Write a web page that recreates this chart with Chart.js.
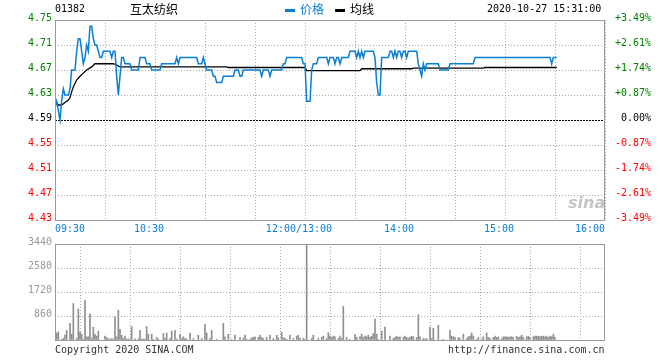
<!DOCTYPE html>
<html>
<head>
<meta charset="utf-8">
<script src="https://cdn.jsdelivr.net/npm/chart.js@4.4.1/dist/chart.umd.min.js"></script>
<style>
  body { margin: 0; background: #fff; }
  #wrap { position: relative; width: 660px; height: 360px; overflow: hidden; }
  canvas { position: absolute; left: 0; }
  .t { position: absolute; font: 10px "DejaVu Sans Mono", monospace; line-height: 12px; white-space: pre; color: #000; }
  .cjk { font: 12px "Noto Sans CJK SC", sans-serif; line-height: 14px; }
  .dash { position: absolute; width: 10px; height: 3px; }
</style>
</head>
<body>
<div id="wrap">
  <canvas id="price" width="660" height="240" style="top:0"></canvas>
  <canvas id="vol" width="660" height="125" style="top:235px"></canvas>

  <div class="t" style="left:55px;top:3px">01382</div>
  <div class="t cjk" style="left:130px;top:2px">互太纺织</div>
  <div class="dash" style="left:285px;top:9px;background:#0a7fd2"></div>
  <div class="t cjk" style="left:300px;top:2px;color:#0a7fd2">价格</div>
  <div class="dash" style="left:335px;top:9px;background:#000"></div>
  <div class="t cjk" style="left:350px;top:2px">均线</div>
  <div class="t" style="left:487px;top:3px">2020-10-27 15:31:00</div>

  <div class="t" style="left:568px;top:193px;font:italic bold 16px 'DejaVu Sans',sans-serif;color:#c4c4c4">sina</div>

  <div class="t" style="left:55px;top:344px;color:#333">Copyright 2020 SINA.COM</div>
  <div class="t" style="left:448px;top:344px;color:#333">http://finance.sina.com.cn</div>
</div>
<script>
// minutes since 09:30 (lunch break removed: 150 = 12:00/13:00)
const priceMin = [0, 1, 3, 4, 5, 6, 8, 9, 10, 12, 13, 14, 15, 16, 17, 18, 19, 20, 21, 22,
  23, 24, 25, 26, 27, 28, 29, 33, 34, 35, 36, 37, 38, 39, 40, 41, 42, 45, 46, 50,
  51, 54, 55, 57, 58, 63, 64, 72, 73, 74, 75, 85, 86, 88, 89, 90, 91, 94, 95, 96,
  97, 100, 101, 107, 108, 110, 111, 112, 113, 123, 124, 125, 128, 129, 130, 136, 137, 138, 139, 148,
  149, 150, 151, 153, 154, 155, 157, 158, 163, 164, 165, 167, 168, 169, 170, 171, 172, 176, 177, 180,
  181, 182, 183, 184, 185, 186, 191, 192, 193, 194, 195, 196, 200, 201, 202, 203, 204, 205, 206, 207,
  208, 209, 210, 211, 212, 217, 218, 219, 220, 221, 222, 223, 230, 231, 236, 237, 251, 252, 297, 298,
  299, 301];
const priceVal = [4.61, 4.62, 4.59, 4.62, 4.64, 4.63, 4.63, 4.64, 4.67, 4.67, 4.70, 4.72, 4.72, 4.70, 4.68, 4.69, 4.71, 4.70, 4.74, 4.74,
  4.72, 4.71, 4.71, 4.70, 4.69, 4.69, 4.70, 4.70, 4.69, 4.70, 4.70, 4.66, 4.63, 4.66, 4.69, 4.69, 4.68, 4.68, 4.67, 4.67,
  4.69, 4.69, 4.68, 4.68, 4.67, 4.67, 4.68, 4.68, 4.69, 4.68, 4.69, 4.69, 4.68, 4.68, 4.69, 4.68, 4.67, 4.67, 4.66, 4.66,
  4.65, 4.65, 4.66, 4.66, 4.67, 4.67, 4.66, 4.66, 4.67, 4.67, 4.66, 4.67, 4.67, 4.66, 4.67, 4.67, 4.68, 4.68, 4.69, 4.69,
  4.68, 4.68, 4.62, 4.62, 4.67, 4.68, 4.68, 4.69, 4.69, 4.68, 4.69, 4.69, 4.68, 4.69, 4.69, 4.68, 4.69, 4.69, 4.70, 4.70,
  4.69, 4.70, 4.69, 4.70, 4.69, 4.70, 4.70, 4.69, 4.65, 4.63, 4.63, 4.69, 4.69, 4.70, 4.70, 4.69, 4.70, 4.69, 4.70, 4.70,
  4.69, 4.70, 4.70, 4.69, 4.70, 4.70, 4.68, 4.67, 4.66, 4.68, 4.67, 4.68, 4.68, 4.67, 4.67, 4.68, 4.68, 4.69, 4.69, 4.68,
  4.69, 4.69];

const avgMin = [0, 2, 4, 6, 8, 9, 10, 11, 13, 15, 17, 19, 22, 24, 35, 37, 39, 103, 104, 150,
  151, 183, 184, 214, 215, 257, 258, 301];
const avgVal = [4.622, 4.614, 4.614, 4.618, 4.622, 4.626, 4.635, 4.643, 4.654, 4.660, 4.665, 4.670, 4.675, 4.680, 4.680, 4.678, 4.675, 4.675, 4.674, 4.674,
  4.669, 4.669, 4.672, 4.672, 4.673, 4.673, 4.674, 4.674];

const volMin = [1, 2, 4, 5, 6, 7, 9, 10, 11, 13, 14, 15, 16, 17, 18, 19, 20, 21, 22, 23,
  24, 25, 26, 30, 31, 32, 33, 34, 35, 36, 37, 38, 39, 40, 41, 42, 43, 44, 45, 46,
  48, 50, 51, 52, 53, 54, 55, 56, 58, 59, 61, 62, 65, 66, 67, 69, 70, 72, 73, 75,
  76, 77, 78, 79, 81, 83, 86, 88, 90, 91, 93, 94, 97, 101, 102, 104, 106, 108, 111, 113,
  114, 115, 117, 118, 119, 120, 122, 123, 124, 125, 127, 129, 131, 133, 134, 136, 137, 138, 139, 141,
  143, 145, 146, 147, 149, 150, 151, 154, 155, 158, 160, 161, 163, 164, 165, 166, 167, 168, 170, 171,
  172, 173, 175, 177, 180, 181, 183, 184, 185, 186, 187, 188, 189, 190, 191, 192, 193, 194, 196, 198,
  201, 203, 204, 205, 206, 207, 209, 210, 211, 212, 213, 214, 215, 217, 218, 219, 221, 222, 223, 225,
  226, 227, 230, 233, 237, 238, 239, 240, 242, 243, 245, 247, 248, 249, 250, 251, 253, 254, 256, 257,
  259, 260, 261, 263, 264, 265, 266, 268, 269, 270, 271, 272, 273, 274, 275, 277, 278, 279, 280, 281,
  283, 284, 285, 287, 288, 289, 290, 291, 292, 293, 294, 295, 296, 297, 298, 299, 300];
const volVal = [252, 287, 30, 57, 172, 344, 596, 206, 1307, 57, 1112, 287, 206, 30, 1422, 115, 115, 940, 57, 459,
  206, 138, 310, 138, 92, 40, 40, 46, 40, 826, 115, 1067, 378, 172, 57, 138, 34, 34, 34, 482,
  46, 46, 344, 34, 34, 34, 482, 206, 206, 23, 92, 34, 229, 57, 252, 57, 321, 344, 34, 206,
  57, 115, 57, 34, 252, 57, 172, 57, 562, 252, 57, 344, 23, 596, 115, 206, 23, 172, 92, 57,
  172, 34, 34, 80, 92, 115, 92, 172, 92, 57, 92, 172, 57, 172, 80, 275, 80, 57, 23, 172,
  57, 138, 172, 57, 57, 23, 3440, 57, 172, 57, 92, 138, 57, 264, 138, 92, 138, 115, 57, 138,
  57, 1204, 92, 23, 195, 92, 115, 206, 92, 138, 115, 172, 92, 138, 229, 746, 206, 23, 321, 459,
  138, 57, 92, 138, 92, 115, 92, 138, 92, 57, 92, 138, 115, 92, 906, 115, 57, 34, 57, 459,
  57, 424, 528, 23, 344, 138, 115, 92, 92, 57, 206, 57, 115, 138, 252, 138, 23, 92, 23, 115,
  252, 92, 57, 92, 138, 92, 115, 57, 115, 115, 115, 92, 115, 115, 92, 138, 92, 115, 172, 92,
  115, 138, 92, 115, 138, 138, 138, 115, 138, 138, 115, 138, 92, 138, 115, 206, 92];

const prevClose = 4.59;
const priceTicks = [4.43, 4.47, 4.51, 4.55, 4.59, 4.63, 4.67, 4.71, 4.75];
const pctLabels = ["-3.49%", "-2.61%", "-1.74%", "-0.87%", " 0.00%", "+0.87%", "+1.74%", "+2.61%", "+3.49%"];
const volTicks = [0, 860, 1720, 2580, 3440];
const timeTickMin = [0, 60, 150, 210, 270, 330];
const timeLabels = ["09:30", "10:30", "12:00/13:00", "14:00", "15:00", "16:00"];

const BLUE = "#0a7fd2";
const GRID = "#a8a8a8";
const GREEN = "#008000";
const RED = "#ff0000";
const monoFont = { family: "DejaVu Sans Mono", size: 10 };
const gridMin = Array.from({ length: 12 }, (_, i) => i * 30);

const setTicks = (vals) => (scale) => {
  scale.ticks = vals.map((v) => ({ value: v }));
};

const frame = {
  id: "frame",
  afterDatasetsDraw(chart) {
    const { ctx, chartArea: a } = chart;
    ctx.save();
    ctx.strokeStyle = "#999";
    ctx.lineWidth = 1;
    ctx.strokeRect(a.left + 0.5, a.top + 0.5, a.right - a.left - 1, a.bottom - a.top);
    ctx.restore();
  },
};

const xScale = (showLabels) => ({
  type: "linear",
  min: 0,
  max: 330,
  offset: false,
  afterBuildTicks: setTicks(gridMin),
  afterFit: (s) => { s.height = showLabels ? 20 : 0; },
  ticks: {
    display: showLabels,
    autoSkip: false,
    maxRotation: 0,
    align: "inner",
    padding: 3,
    color: BLUE,
    font: monoFont,
    callback: (v) => {
      const i = timeTickMin.indexOf(v);
      if (i < 0) return "";
      if (i === 0 || i === timeTickMin.length - 1) return timeLabels[i];
      return timeLabels[i] + "  ";
    },
  },
  grid: { color: GRID, drawTicks: false },
  border: { display: false, dash: [1, 2] },
});

const tickColor = (v) => (v > prevClose + 1e-9 ? GREEN : v < prevClose - 1e-9 ? RED : "#000");

new Chart(document.getElementById("price"), {
  type: "line",
  data: {
    datasets: [
      {
        label: "价格",
        data: priceMin.map((m, i) => ({ x: m, y: priceVal[i] })),
        borderColor: BLUE,
        borderWidth: 1.5,
        pointRadius: 0,
        tension: 0,
      },
      {
        label: "均线",
        data: avgMin.map((m, i) => ({ x: m, y: avgVal[i] })),
        borderColor: "#000",
        borderWidth: 1.3,
        pointRadius: 0,
        tension: 0,
      },
    ],
  },
  options: {
    responsive: false,
    animation: false,
    layout: { padding: { top: 20 } },
    plugins: { legend: { display: false }, tooltip: { enabled: false } },
    scales: {
      x: xScale(true),
      y: {
        position: "left",
        min: 4.43,
        max: 4.75,
        afterBuildTicks: setTicks(priceTicks),
        afterFit: (s) => { s.width = 55; },
        ticks: {
          padding: 3,
          labelOffset: -2,
          font: monoFont,
          color: (c) => tickColor(c.tick.value),
          callback: (v) => v.toFixed(2),
        },
        grid: {
          drawTicks: false,
          color: (c) => (Math.abs(c.tick.value - prevClose) < 1e-9 ? "#000" : GRID),
        },
        border: {
          display: false,
          dash: (c) => (c.tick && Math.abs(c.tick.value - prevClose) < 1e-9 ? [2, 1] : [1, 2]),
        },
      },
      y2: {
        position: "right",
        min: 4.43,
        max: 4.75,
        afterBuildTicks: setTicks(priceTicks),
        afterFit: (s) => { s.width = 55; },
        ticks: {
          padding: 2,
          labelOffset: -2,
          font: monoFont,
          color: (c) => tickColor(c.tick.value),
          callback: (v, i) => pctLabels[i],
        },
        grid: { display: false },
        border: { display: false },
      },
    },
  },
  plugins: [frame],
});

new Chart(document.getElementById("vol"), {
  type: "bar",
  data: {
    datasets: [
      {
        label: "成交量",
        data: volMin.map((m, i) => ({ x: m, y: volVal[i] })),
        backgroundColor: "#8f8f8f",
        barThickness: 1,
      },
    ],
  },
  options: {
    responsive: false,
    animation: false,
    layout: { padding: { top: 5, bottom: 20, right: 55 } },
    plugins: { legend: { display: false }, tooltip: { enabled: false } },
    scales: {
      x: xScale(false),
      y: {
        position: "left",
        min: 0,
        max: 3440,
        afterBuildTicks: setTicks(volTicks),
        afterFit: (s) => { s.width = 55; },
        ticks: {
          padding: 3,
          labelOffset: -2,
          font: monoFont,
          color: "#999",
          callback: (v) => (v === 0 ? "" : String(v)),
        },
        grid: { drawTicks: false, color: GRID },
        border: { display: false, dash: [1, 2] },
      },
    },
  },
  plugins: [frame],
});
</script>
</body>
</html>
